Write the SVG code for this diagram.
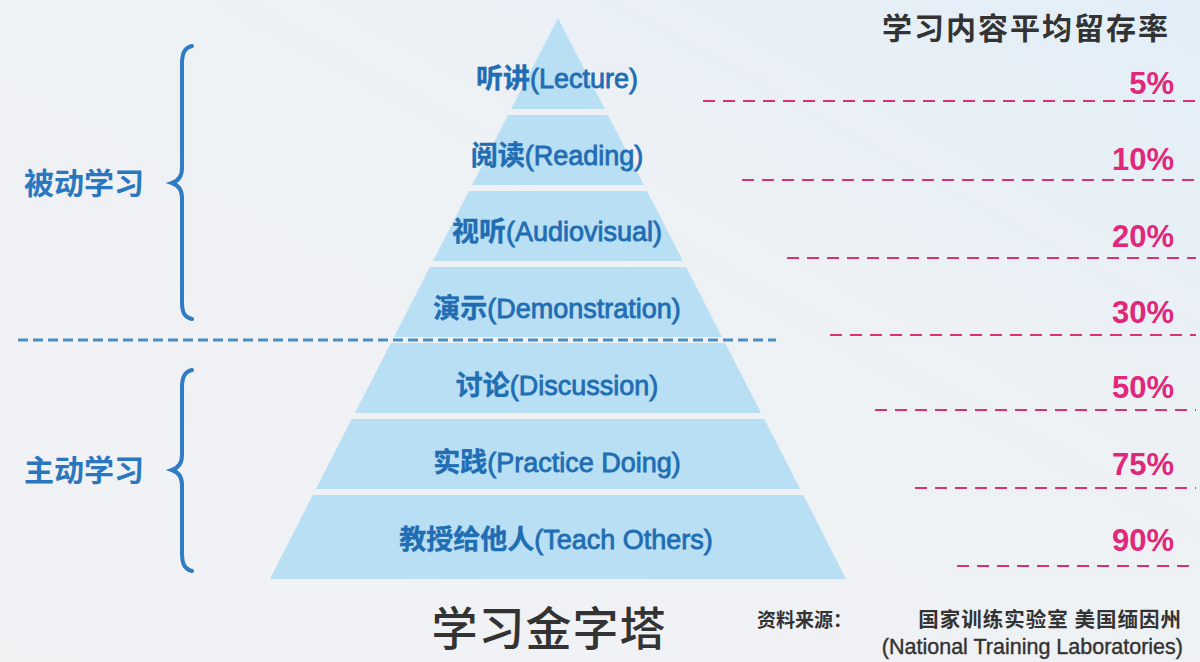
<svg xmlns="http://www.w3.org/2000/svg" width="1200" height="662" viewBox="0 0 1200 662">
<defs>
<linearGradient id="bg" x1="0" y1="1" x2="1" y2="0">
<stop offset="0" stop-color="#f1f2f4"/>
<stop offset="0.6" stop-color="#eef1f4"/>
<stop offset="1" stop-color="#e2eef8"/>
</linearGradient>
<style>
.band{fill:#b9dff4}
.lbl{font-family:"Liberation Sans","Noto Sans CJK SC",sans-serif;font-size:27px;fill:#1f6db3;stroke:#1f6db3;stroke-width:0.8px;text-anchor:middle}
.cjk{font-family:"Noto Sans CJK SC",sans-serif;font-weight:bold;stroke-width:0.4px}
.side{font-family:"Noto Sans CJK SC",sans-serif;font-weight:bold;font-size:30px;fill:#2a77c0}
.pct{font-family:"Liberation Sans","Noto Sans CJK SC",sans-serif;font-weight:bold;font-size:31px;fill:#e0277a;text-anchor:end}
.pline{stroke:#d8336f;stroke-width:2;stroke-dasharray:12 8;fill:none}
.brace{fill:none;stroke:#2f7bc4;stroke-width:4;stroke-linecap:round}
.dark{fill:#333333;font-family:"Noto Sans CJK SC",sans-serif}
</style>
</defs>
<rect width="1200" height="662" fill="url(#bg)"/>

<g id="pyramid">
<g id="lecture"><polygon class="band" points="558,18 604.8,109 511.2,109"/><text class="lbl" x="557" y="88"><tspan class="cjk">听讲</tspan>(Lecture)</text></g>
<g id="reading"><polygon class="band" points="508.1,115 607.9,115 643.9,185 472.1,185"/><text class="lbl" x="557" y="165"><tspan class="cjk">阅读</tspan>(Reading)</text></g>
<g id="audiovisual"><polygon class="band" points="469,191 647,191 683,261 433,261"/><text class="lbl" x="557" y="241"><tspan class="cjk">视听</tspan>(Audiovisual)</text></g>
<g id="demonstration"><polygon class="band" points="429.9,267 686.1,267 722.1,337 393.9,337"/><text class="lbl" x="557" y="318"><tspan class="cjk">演示</tspan>(Demonstration)</text></g>
<g id="discussion"><polygon class="band" points="390.9,343 725.1,343 761.1,413 354.9,413"/><text class="lbl" x="557" y="395"><tspan class="cjk">讨论</tspan>(Discussion)</text></g>
<g id="practice"><polygon class="band" points="351.8,419 764.2,419 800.2,489 315.8,489"/><text class="lbl" x="557" y="472"><tspan class="cjk">实践</tspan>(Practice Doing)</text></g>
<g id="teach"><polygon class="band" points="312.7,495 803.3,495 846,579 270,579"/><text class="lbl" x="556" y="549"><tspan class="cjk">教授给他人</tspan>(Teach Others)</text></g>
</g>

<g id="passive">
<path class="brace" d="M192,46 C184,48 182,54 182,64 L182,168 C182,177 178,181 172,183 C178,185 182,189 182,198 L182,302 C182,312 184,317 192,319"/>
<text class="side" x="24" y="194">被动学习</text>
</g>
<g id="active">
<path class="brace" d="M192,370 C184,372 182,378 182,388 L182,455 C182,464 178,468 172,470 C178,472 182,476 182,485 L182,553 C182,563 184,569 192,571"/>
<text class="side" x="24" y="481">主动学习</text>
</g>

<g id="connectors">
<line x1="18" y1="340" x2="776" y2="340" stroke="#4a8fc2" stroke-width="3" stroke-dasharray="10 5"/>
<line class="pline" x1="703" y1="101" x2="1196" y2="101"/>
<line class="pline" x1="742" y1="180" x2="1196" y2="180"/>
<line class="pline" x1="787" y1="258" x2="1196" y2="258"/>
<line class="pline" x1="830" y1="335" x2="1196" y2="335"/>
<line class="pline" x1="875" y1="410" x2="1196" y2="410"/>
<line class="pline" x1="915" y1="488" x2="1196" y2="488"/>
<line class="pline" x1="957" y1="566" x2="1196" y2="566"/>
</g>

<g id="retention">
<text class="dark" x="1026" y="39" font-size="30" font-weight="bold" text-anchor="middle" letter-spacing="2">学习内容平均留存率</text>
<text class="pct" x="1174" y="94">5%</text>
<text class="pct" x="1174" y="170">10%</text>
<text class="pct" x="1174" y="247">20%</text>
<text class="pct" x="1174" y="323">30%</text>
<text class="pct" x="1174" y="398">50%</text>
<text class="pct" x="1174" y="475">75%</text>
<text class="pct" x="1174" y="551">90%</text>
</g>

<g id="title">
<text class="dark" x="549" y="645" font-size="46" font-weight="500" text-anchor="middle" letter-spacing="1">学习金字塔</text>
</g>
<g id="source">
<text class="dark" x="757" y="627" font-size="19" font-weight="bold">资料来源：</text>
<text class="dark" x="1182" y="627" font-size="20.5" font-weight="bold" text-anchor="end" letter-spacing="1">国家训练实验室 美国缅因州</text>
<text x="1183" y="654" font-size="21.5" fill="#333333" stroke="#333333" stroke-width="0.4" text-anchor="end" font-family="Liberation Sans, sans-serif">(National Training Laboratories)</text>
</g>
</svg>
